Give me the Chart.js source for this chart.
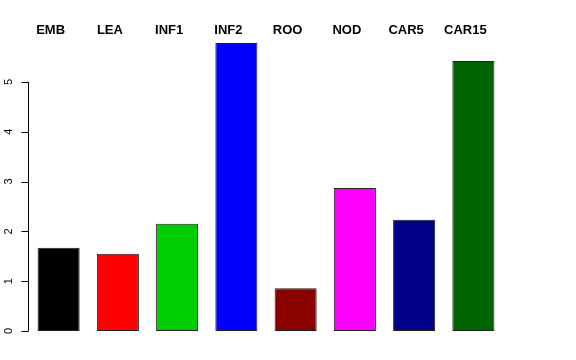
<!DOCTYPE html>
<html>
<head>
<meta charset="utf-8">
<script src="https://cdn.jsdelivr.net/npm/chart.js@4"></script>
<style>
  html, body { margin: 0; padding: 0; background: #fff; }
  #wrap { width: 576px; height: 360px; }
</style>
</head>
<body>
<div id="wrap"><canvas id="chart"></canvas></div>
<script>
// data
const categories = ["EMB", "LEA", "INF1", "INF2", "ROO", "NOD", "CAR5", "CAR15"];
const values = [1.67, 1.55, 2.15, 5.78, 0.86, 2.87, 2.23, 5.42];
const barColors = ["#000000", "#FF0000", "#00CD00", "#0000FF", "#8B0000", "#FF00FF", "#00008B", "#006400"];
const yTicks = [0, 1, 2, 3, 4, 5];

// R style axis on the left + names on top
const rAxis = {
    id: "rAxis",
    afterDraw(chart) {
        const ctx = chart.ctx;
        const y = chart.scales.y;
        const x = chart.scales.x;
        const ax = 28.5;

        ctx.save();
        ctx.strokeStyle = "#000";
        ctx.lineWidth = 1;
        ctx.beginPath();
        ctx.moveTo(ax, y.getPixelForValue(yTicks[0]));
        ctx.lineTo(ax, y.getPixelForValue(yTicks[yTicks.length - 1]));
        yTicks.forEach(function(t) {
            let py = Math.round(y.getPixelForValue(t)) + 0.5;
            ctx.moveTo(ax, py);
            ctx.lineTo(ax - 7, py);
        });
        ctx.stroke();

        ctx.fillStyle = "#000";
        ctx.font = "11px 'Liberation Sans', Arial, sans-serif";
        ctx.textAlign = "center";
        ctx.textBaseline = "middle";
        yTicks.forEach(function(t) {
            ctx.save();
            ctx.translate(9, y.getPixelForValue(t));
            ctx.rotate(-Math.PI / 2);
            ctx.fillText(String(t), 0, 0);
            ctx.restore();
        });

        ctx.font = "bold 13px 'Liberation Sans', Arial, sans-serif";
        categories.forEach(function(c, i) {
            ctx.fillText(c, x.getPixelForValue(i) - 8, 30);
        });
        ctx.restore();
    }
};

new Chart(document.getElementById("chart"), {
    type: "bar",
    data: {
        labels: categories,
        datasets: [{
            data: values,
            backgroundColor: barColors,
            borderColor: "#222",
            borderWidth: 1,
            borderSkipped: false,
            categoryPercentage: 1,
            barPercentage: 0.71
        }]
    },
    options: {
        responsive: true,
        maintainAspectRatio: false,
        animation: false,
        events: [],
        layout: { padding: { left: 29, right: 73, top: 32, bottom: 29 } },
        plugins: {
            legend: { display: false },
            tooltip: { enabled: false }
        },
        scales: {
            x: { display: false, offset: true },
            y: { display: false, min: 0, max: 6 }
        }
    },
    plugins: [rAxis]
});
</script>
</body>
</html>
